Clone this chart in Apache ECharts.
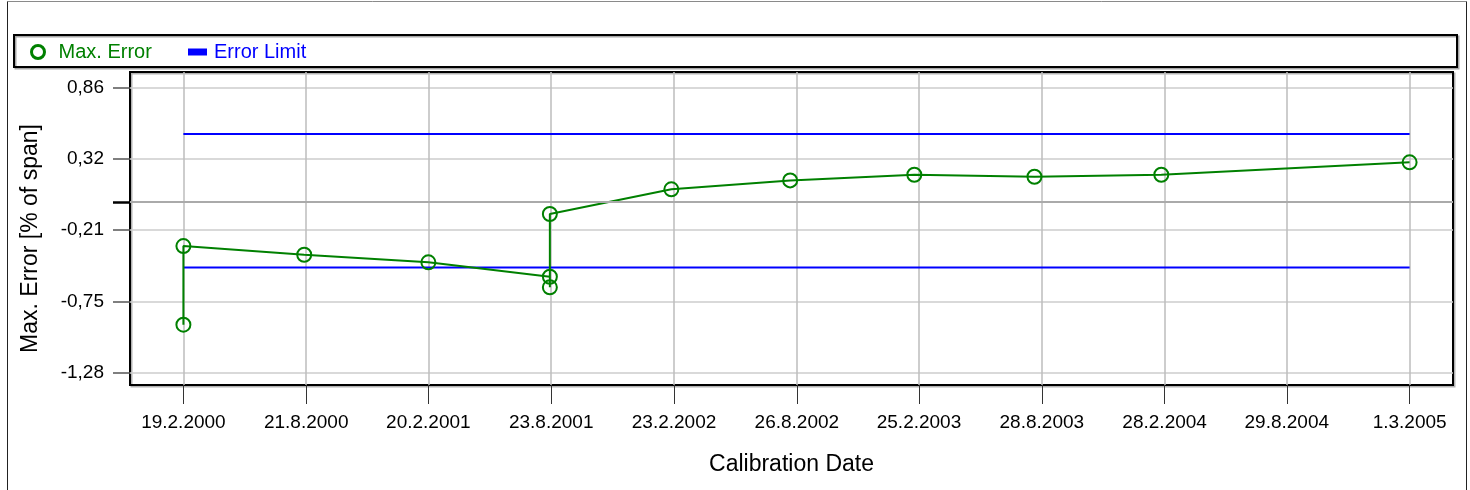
<!DOCTYPE html>
<html>
<head>
<meta charset="utf-8">
<script src="https://cdn.jsdelivr.net/npm/echarts@6/dist/echarts.min.js"></script>
<style>
html,body{margin:0;padding:0;background:#fff;}
#chart{width:1470px;height:490px;}
</style>
</head>
<body>
<div id="chart"></div>
<script>
// ---- Data ----
const calibrationDates = ['2000-02-19','2000-02-19','2000-08-18','2001-02-20','2001-08-21','2001-08-21','2001-08-21','2002-02-19','2002-08-16','2003-02-18','2003-08-17','2004-02-23','2005-03-01'];
const maxErrorValues   = [-0.918, -0.329, -0.394, -0.451, -0.559, -0.638, -0.089, 0.096, 0.163, 0.205, 0.190, 0.205, 0.298];
const limitDates       = ['2000-02-19', '2005-03-01'];
const upperLimitValues = [0.51, 0.51];
const lowerLimitValues = [-0.49, -0.49];
const xTickLabels = ['19.2.2000','21.8.2000','20.2.2001','23.8.2001','23.2.2002','26.8.2002','25.2.2003','28.8.2003','28.2.2004','29.8.2004','1.3.2005'];
const yTickValues = [-1.28, -0.745, -0.21, 0.325, 0.86];
const yTickLabels = ['-1,28', '-0,75', '-0,21', '0,32', '0,86'];

// ---- helpers ----
const DAY = 86400000;
function isoToTs(s){ const p = s.split('-').map(Number); return Date.UTC(p[0], p[1]-1, p[2]); }
function dmyToTs(s){ const p = s.split('.').map(Number); return Date.UTC(p[2], p[1]-1, p[0]); }
const xTickValues = xTickLabels.map(dmyToTs);
function nearestIndex(arr, v){ let bi = 0, bd = Infinity; arr.forEach((a,i)=>{ const d = Math.abs(a - v); if (d < bd){ bd = d; bi = i; } }); return bi; }

const GREEN = '#008000', BLUE = '#0000ff';
const FONT = "'Liberation Sans', Arial, sans-serif";

const maxErrorData = calibrationDates.map((d,i)=>[isoToTs(d), maxErrorValues[i]]);
const upperData = limitDates.map((d,i)=>[isoToTs(d), upperLimitValues[i]]);
const lowerData = limitDates.map((d,i)=>[isoToTs(d), lowerLimitValues[i]]);

const chart = echarts.init(document.getElementById('chart'), null, {renderer:'canvas'});
chart.setOption({
  animation: false,
  backgroundColor: '#fff',
  textStyle: {fontFamily: FONT},
  graphic: [
    {type:'line', shape:{x1:7.5, y1:1.5, x2:1466.5, y2:1.5}, style:{stroke:'#8a8a8a', lineWidth:1}},
    {type:'line', shape:{x1:7.5, y1:1.5, x2:7.5, y2:495}, style:{stroke:'#222', lineWidth:1}},
    {type:'line', shape:{x1:1466.5, y1:1.5, x2:1466.5, y2:495}, style:{stroke:'#222', lineWidth:1}},
    {type:'rect', shape:{x:14, y:35, width:1443, height:32}, style:{fill:'none', stroke:'#000', lineWidth:2, shadowColor:'rgba(0,0,0,0.35)', shadowOffsetX:1.5, shadowOffsetY:1.5}, z: 0}
  ],
  legend: [
    {
      data: [{name:'Max. Error', icon:'circle', itemStyle:{color:'rgba(0,0,0,0)', borderColor:GREEN, borderWidth:3}}],
      left: 30, top: 42, padding: 0,
      itemWidth: 13, itemHeight: 13,
      selectedMode: false,
      textStyle: {color: GREEN, fontSize: 20, fontFamily: FONT, padding: [0, 0, 0, 9]}
    },
    {
      data: [{name:'Error Limit', icon:'rect', itemStyle:{color:BLUE}}],
      left: 188, top: 42, padding: 0,
      itemWidth: 19, itemHeight: 7,
      selectedMode: false,
      textStyle: {color: BLUE, fontSize: 20, fontFamily: FONT, padding: [0, 0, 0, 2]}
    }
  ],
  grid: {
    left: 130, right: 17, top: 72, bottom: 105,
    show: true, borderColor: '#000', borderWidth: 2,
    shadowColor: 'rgba(0,0,0,0.3)', shadowOffsetX: 1.5, shadowOffsetY: 1.5,
    containLabel: false
  },
  xAxis: {
    type: 'value',
    scale: true,
    min: xTickValues[0] - 80*DAY,
    max: xTickValues[xTickValues.length-1] + 65*DAY,
    name: 'Calibration Date',
    nameLocation: 'middle',
    nameGap: 68,
    nameTextStyle: {fontSize: 23, color: '#000', fontFamily: FONT},
    axisLine: {show: false, onZero: false},
    axisTick: {show: true, length: 19, customValues: xTickValues, lineStyle: {color: '#333', width: 1}},
    axisLabel: {
      customValues: xTickValues,
      margin: 28,
      fontSize: 19, color: '#000', fontFamily: FONT,
      formatter: (v)=> xTickLabels[nearestIndex(xTickValues, v)]
    },
    splitLine: {show: true, lineStyle: {color: '#bdbdbd', width: 1.5}}
  },
  yAxis: [
    {
      type: 'value',
      min: -1.37, max: 0.975,
      position: 'left',
      name: 'Max. Error [% of span]',
      nameLocation: 'middle',
      nameGap: 88,
      nameTextStyle: {fontSize: 23, color: '#000', fontFamily: FONT, padding: [0, 20, 0, 0]},
      axisLine: {show: false, onZero: false},
      axisTick: {show: true, length: 17, customValues: yTickValues, lineStyle: {color: '#555', width: 1.5}},
      axisLabel: {
        customValues: yTickValues,
        margin: 26,
        fontSize: 19, color: '#000', fontFamily: FONT,
        formatter: (v)=> yTickLabels[nearestIndex(yTickValues, v)]
      },
      splitLine: {show: true, lineStyle: {color: '#cccccc', width: 1.5}}
    },
    {
      type: 'value',
      min: -1.37, max: 0.975,
      position: 'left', offset: 0,
      axisLine: {show: false, onZero: false},
      axisTick: {show: true, length: 17, customValues: [0], lineStyle: {color: '#000', width: 2.5}},
      axisLabel: {show: false},
      splitLine: {show: false}
    }
  ],
  series: [
    {
      name: 'Error Limit', type: 'line', data: upperData,
      symbol: 'none', lineStyle: {color: BLUE, width: 2}, itemStyle: {color: BLUE}, z: 3
    },
    {
      name: 'Error Limit', type: 'line', data: lowerData,
      symbol: 'none', lineStyle: {color: BLUE, width: 2}, itemStyle: {color: BLUE}, z: 3
    },
    {
      name: 'Max. Error', type: 'line', data: maxErrorData,
      symbol: 'circle', symbolSize: 14, showAllSymbol: true,
      itemStyle: {color: 'rgba(0,0,0,0)', borderColor: GREEN, borderWidth: 2},
      lineStyle: {color: GREEN, width: 2},
      z: 4,
      markLine: {
        silent: true, symbol: ['none','none'], label: {show: false},
        lineStyle: {color: '#aaaaaa', width: 2, type: 'solid'},
        data: [{yAxis: 0}]
      }
    }
  ]
});
</script>
</body>
</html>
